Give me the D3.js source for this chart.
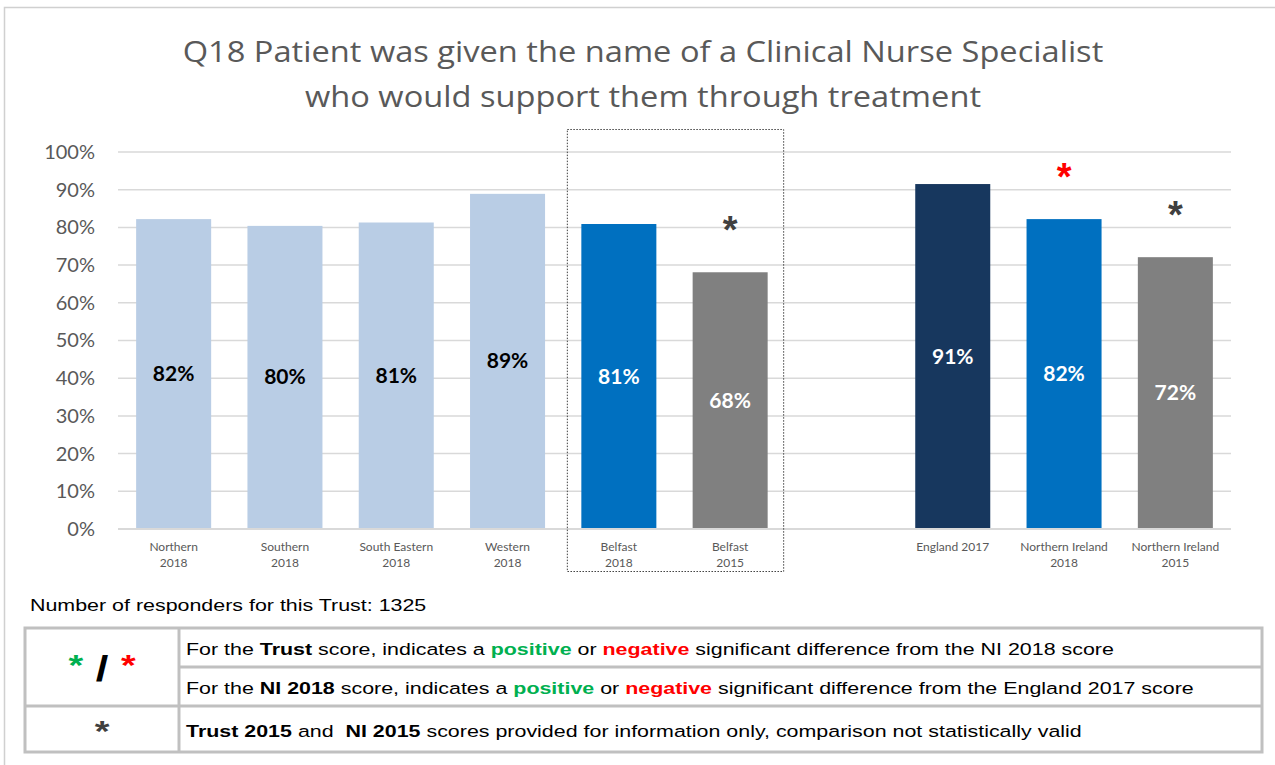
<!DOCTYPE html>
<html>
<head>
<meta charset="utf-8">
<script src="https://cdn.jsdelivr.net/npm/d3@7"></script>
<style>
  body { margin: 0; background: #fff; }
  svg { display: block; }
</style>
</head>
<body>
<svg id="chart" width="1275" height="765"></svg>
<script>
// Q18 chart data
const categories = ["Northern\n2018", "Southern\n2018", "South Eastern\n2018", "Western\n2018",
    "Belfast\n2018", "Belfast\n2015", "", "England 2017", "Northern Ireland\n2018", "Northern Ireland\n2015"];
const values = [0.822, 0.804, 0.813, 0.889, 0.809, 0.681, null, 0.915, 0.822, 0.721];
const labels = ["82%", "80%", "81%", "89%", "81%", "68%", "", "91%", "82%", "72%"];
const barColors = ["#b9cde5", "#b9cde5", "#b9cde5", "#b9cde5", "#0070c0", "#808080", null, "#17375e", "#0070c0", "#808080"];
const labelColors = ["#000", "#000", "#000", "#000", "#fff", "#fff", null, "#fff", "#fff", "#fff"];
// significance markers: [category, colour]
const markers = [["Belfast\n2015", "#404040"], ["Northern Ireland\n2018", "#ff0000"], ["Northern Ireland\n2015", "#404040"]];
const yTicks = [0, 0.1, 0.2, 0.3, 0.4, 0.5, 0.6, 0.7, 0.8, 0.9, 1.0];

const chartFont = "Lato, 'Open Sans', sans-serif";
const titleFont = "'Open Sans', Lato, sans-serif";
const tableFont = "'Liberation Sans', Arial, sans-serif";
const stretch = 1.26; // table text looks horizontally widened

const svg = d3.select("#chart");
const margin = { left: 118, right: 44, top: 152, bottom: 236 };
const width = 1275, height = 765;

const x = d3.scaleBand()
    .domain(categories)
    .range([margin.left, width - margin.right])
    .paddingInner(0.326)
    .paddingOuter(0.163);

const y = d3.scaleLinear()
    .domain([0, 1])
    .range([height - margin.bottom, margin.top]);

// outer frame
svg.append("path")
    .attr("d", "M4.5,765 V7.5 H1275")
    .attr("fill", "none")
    .attr("stroke", "#d0d0d0")
    .attr("stroke-width", 1.5);

// title
svg.append("g")
    .attr("transform", "translate(643,62) scale(1.088,1)")
    .append("text")
    .attr("text-anchor", "middle")
    .attr("font-family", titleFont)
    .attr("font-size", 30)
    .attr("fill", "#595959")
    .selectAll("tspan")
    .data(["Q18 Patient was given the name of a Clinical Nurse Specialist", "who would support them through treatment"])
    .join("tspan")
    .attr("x", 0)
    .attr("dy", (d, i) => i ? 45 : 0)
    .text(d => d);

// gridlines
svg.append("g")
    .selectAll("line")
    .data(yTicks)
    .join("line")
    .attr("x1", margin.left).attr("x2", width - margin.right)
    .attr("y1", d => y(d)).attr("y2", d => y(d))
    .attr("stroke", "#d9d9d9")
    .attr("stroke-width", 1.5);

// y axis labels
const yAxis = svg.append("g")
    .attr("transform", `translate(${margin.left},0)`)
    .call(d3.axisLeft(y).tickValues(yTicks).tickFormat(d3.format(".0%")).tickSize(0).tickPadding(23));
yAxis.select(".domain").remove();
yAxis.selectAll("text")
    .attr("font-family", chartFont)
    .attr("font-size", 20)
    .attr("fill", "#595959");

// bars
const data = categories.map((c, i) => ({ cat: c, v: values[i], label: labels[i], color: barColors[i], lc: labelColors[i] }))
    .filter(d => d.v !== null);

svg.append("g")
    .selectAll("rect")
    .data(data)
    .join("rect")
    .attr("x", d => x(d.cat))
    .attr("y", d => y(d.v))
    .attr("width", x.bandwidth())
    .attr("height", d => y(0) - y(d.v))
    .attr("fill", d => d.color);

// value labels in the middle of bars
svg.append("g")
    .selectAll("text")
    .data(data)
    .join("text")
    .attr("x", d => x(d.cat) + x.bandwidth() / 2)
    .attr("y", d => (y(d.v) + y(0)) / 2 + 7)
    .attr("text-anchor", "middle")
    .attr("font-family", chartFont)
    .attr("font-weight", "bold")
    .attr("font-size", 21)
    .attr("fill", d => d.lc)
    .text(d => d.label);

// x axis baseline
svg.append("line")
    .attr("x1", margin.left).attr("x2", width - margin.right)
    .attr("y1", y(0)).attr("y2", y(0))
    .attr("stroke", "#d9d9d9")
    .attr("stroke-width", 2);

// category labels
svg.append("g")
    .selectAll("text")
    .data(categories.filter(c => c))
    .join("text")
    .attr("text-anchor", "middle")
    .attr("font-family", chartFont)
    .attr("font-size", 12)
    .attr("fill", "#595959")
    .each(function (c) {
        const cx = x(c) + x.bandwidth() / 2;
        d3.select(this).selectAll("tspan")
            .data(c.split("\n"))
            .join("tspan")
            .attr("x", cx)
            .attr("y", (d, i) => 551 + i * 16)
            .text(d => d);
    });

// significance asterisks
svg.append("g")
    .selectAll("text")
    .data(markers)
    .join("text")
    .attr("x", d => x(d[0]) + x.bandwidth() / 2)
    .attr("y", d => y(values[categories.indexOf(d[0])]) - 29)
    .attr("text-anchor", "middle")
    .attr("font-family", tableFont)
    .attr("font-weight", "bold")
    .attr("font-size", 38)
    .attr("fill", d => d[1])
    .text("*");

// dotted box around Belfast bars
const bx0 = x("Belfast\n2018") - 14, bx1 = x("Belfast\n2015") + x.bandwidth() + 16;
svg.append("rect")
    .attr("x", bx0).attr("y", 129.5)
    .attr("width", bx1 - bx0).attr("height", 442)
    .attr("fill", "none")
    .attr("stroke", "#404040")
    .attr("stroke-width", 1)
    .attr("stroke-dasharray", "1.5,1.5");

// responders note
svg.append("text")
    .attr("transform", `translate(30,611) scale(${stretch},1)`)
    .attr("font-family", tableFont)
    .attr("font-size", 17)
    .attr("fill", "#000")
    .text("Number of responders for this Trust: 1325");

// key table
const tL = 25, tR = 1262, tMid = 179;
const rowY = [628, 667, 706, 752];
const tbl = svg.append("g").attr("stroke", "#c0c0c0").attr("stroke-width", 3);
tbl.append("rect").attr("x", tL).attr("y", rowY[0]).attr("width", tR - tL).attr("height", rowY[3] - rowY[0]).attr("fill", "none");
tbl.append("line").attr("x1", tMid).attr("x2", tMid).attr("y1", rowY[0]).attr("y2", rowY[3]);
tbl.append("line").attr("x1", tMid).attr("x2", tR).attr("y1", rowY[1]).attr("y2", rowY[1]);
tbl.append("line").attr("x1", tL).attr("x2", tR).attr("y1", rowY[2]).attr("y2", rowY[2]);

const rows = [
    [["For the ", "#000", 400], ["Trust", "#000", 700], [" score, indicates a ", "#000", 400], ["positive", "#00b050", 700],
     [" or ", "#000", 400], ["negative", "#ff0000", 700], [" significant difference from the NI 2018 score", "#000", 400]],
    [["For the ", "#000", 400], ["NI 2018", "#000", 700], [" score, indicates a ", "#000", 400], ["positive", "#00b050", 700],
     [" or ", "#000", 400], ["negative", "#ff0000", 700], [" significant difference from the England 2017 score", "#000", 400]],
    [["Trust 2015", "#000", 700], [" and  ", "#000", 400], ["NI 2015", "#000", 700],
     [" scores provided for information only, comparison not statistically valid", "#000", 400]]
];
const rowTextY = [655, 694, 737];

rows.forEach((parts, i) => {
    const t = svg.append("text")
        .attr("transform", `translate(186,${rowTextY[i]}) scale(${stretch},1)`)
        .attr("font-family", tableFont)
        .attr("font-size", 17)
        .attr("xml:space", "preserve");
    t.selectAll("tspan")
        .data(parts)
        .join("tspan")
        .attr("fill", d => d[1])
        .attr("font-weight", d => d[2])
        .text(d => d[0]);
});

// key symbols
const key = svg.append("text")
    .attr("transform", `translate(102,681) scale(${stretch},1)`)
    .attr("text-anchor", "middle")
    .attr("font-family", tableFont)
    .attr("font-weight", "bold")
    .attr("xml:space", "preserve");
key.append("tspan").attr("fill", "#00b050").attr("font-size", 30).attr("dy", -6).text("*");
key.append("tspan").attr("fill", "#000").attr("font-size", 36).attr("dy", 6).text(" / ");
key.append("tspan").attr("fill", "#ff0000").attr("font-size", 30).attr("dy", -6).text("*");

svg.append("text")
    .attr("transform", `translate(102,741) scale(${stretch},1)`)
    .attr("text-anchor", "middle")
    .attr("font-family", tableFont)
    .attr("font-weight", "bold")
    .attr("font-size", 30)
    .attr("fill", "#404040")
    .text("*");
</script>
</body>
</html>
